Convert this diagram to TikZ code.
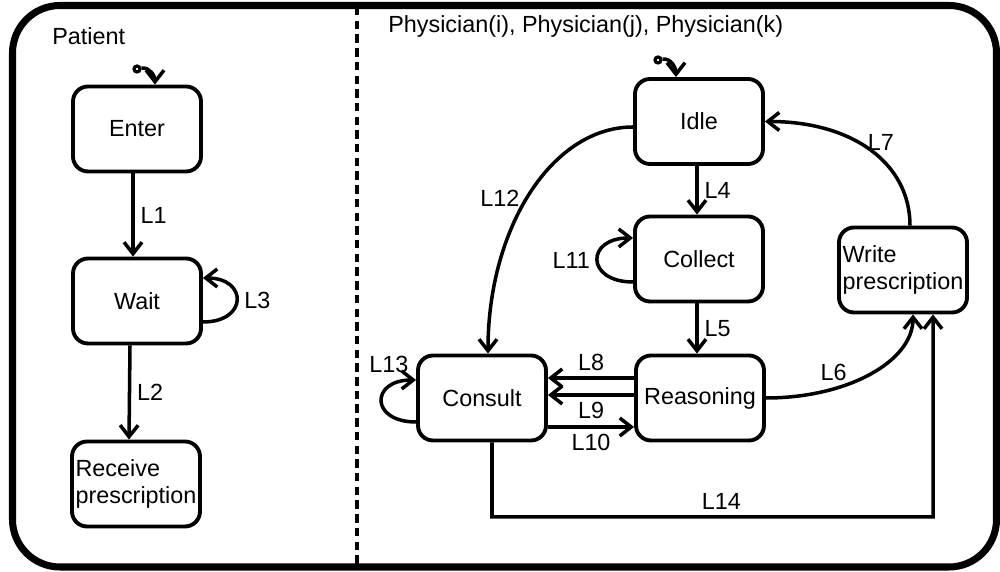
\documentclass[tikz,border=0pt]{standalone}
\usepackage{fontspec}
\setmainfont{Liberation Sans}
\usepackage{tikz}
\usetikzlibrary{arrows.meta, positioning}

\tikzset{
  state/.style={draw, line width=2.2pt, rounded corners=0.3cm,
    minimum width=2.56cm, minimum height=1.7cm, inner sep=2pt,
    font=\fontsize{13.3}{15.5}\selectfont},
  lbl/.style={font=\fontsize{13.3}{15.5}\selectfont},
  arr/.style={line width=2pt, -{Straight Barb[length=2.3mm, width=3.6mm]}},
  initdot/.style={circle, draw, line width=1.8pt, fill=white, inner sep=0pt, minimum size=0.12cm},
}

\begin{document}
\begin{tikzpicture}
    \useasboundingbox (0,0) rectangle (20,11.44);
    % frame and divider
    \draw[line width=4pt, rounded corners=0.95cm] (0.25,0.1) rectangle (19.93,11.33);
    \draw[line width=2pt, dash pattern=on 4.8pt off 3pt] (7.14,11.3) -- (7.14,0.14);
    \node[lbl, anchor=west, inner sep=0pt] (pat) at (1.04,10.71) {Patient};
    \node[lbl, anchor=west, inner sep=0pt] (phy) at (7.76,10.91) {Physician(i), Physician(j), Physician(k)};

    % patient states
    \node[state] (enter) at (2.74,8.86) {Enter};
    \node[state] (wait) at (2.74,5.42) {Wait};
    \node[state, align=left] (recv) at (2.72,1.76) {Receive\\prescription};
    \node[initdot] (e0) at (2.74,10.06) {};

    % physician states
    \node[state] (idle) at (13.98,9.01) {Idle};
    \node[state] (collect) at (13.98,6.26) {Collect};
    \node[state] (reason) at (14.0,3.48) {Reasoning};
    \node[state] (consult) at (9.64,3.48) {Consult};
    \node[state, align=left, inner sep=1pt] (write) at (18.06,6.04) {Write\\prescription};
    \node[initdot] (i0) at (13.16,10.24) {};
    \coordinate (c14) at (18.66,1.1);

    % initial marks
    \draw[arr] (e0) to[out=10, in=90] ([xshift=0.36cm]enter.north);
    \draw[arr] (i0) to[out=10, in=90] ([xshift=-0.46cm]idle.north);

    % patient transitions
    \draw[arr] ([xshift=-0.08cm]enter.south) -- node[lbl, right] {L1} ([xshift=-0.08cm]wait.north);
    \draw[arr] ([xshift=-0.14cm]wait.south) -- node[lbl, right] {L2} ([xshift=-0.14cm]recv.north);
    \draw[arr] ([yshift=-0.42cm]wait.east) .. controls +(0.9,0) and +(0.9,0) .. node[lbl, right] {L3} ([yshift=0.46cm]wait.east);

    % physician transitions
    \draw[arr] ([xshift=-0.04cm]idle.south) -- node[lbl, right] {L4} ([xshift=-0.04cm]collect.north);
    \draw[arr] ([xshift=-0.04cm]collect.south) -- node[lbl, right] {L5} ([xshift=-0.06cm]reason.north);
    \draw[arr] (reason.east) .. controls +(1.63,0) and +(0,-0.94) .. node[lbl, pos=0.3, above] {L6} ([xshift=0.2cm]write.south);
    \draw[arr] ([xshift=0.14cm]write.north) .. controls +(0,1.24) and +(1.76,0) .. node[lbl, pos=0.5, xshift=0.21cm, yshift=0.15cm] {L7} (idle.east);
    \draw[arr] ([yshift=0.4cm]reason.west) -- node[lbl, above] {L8} ([yshift=0.4cm]consult.east);
    \draw[arr] ([yshift=0.06cm]reason.west) -- node[lbl, below] {L9} ([yshift=0.06cm]consult.east);
    \draw[arr] ([yshift=-0.58cm]consult.east) -- node[lbl, below] {L10} ([yshift=-0.58cm]reason.west);
    \draw[arr] ([yshift=-0.46cm]collect.west) .. controls +(-0.95,0) and +(-0.95,0) .. node[lbl, left=0pt] {L11} ([yshift=0.42cm]collect.west);
    \draw[arr] ([yshift=-0.11cm]idle.west) .. controls +(-1.62,0) and +(0,2.52) .. node[lbl, pos=0.52, left] {L12} ([xshift=0.12cm]consult.north);
    \draw[arr] ([yshift=-0.48cm]consult.west) .. controls +(-0.92,0) and +(-0.92,0) .. node[lbl, pos=1, above left] {L13} ([yshift=0.36cm]consult.west);
    \draw[arr] ([xshift=0.2cm]consult.south) |- node[lbl, pos=0.76, above] {L14} (c14) -- ([xshift=0.6cm]write.south);
\end{tikzpicture}
\end{document}
